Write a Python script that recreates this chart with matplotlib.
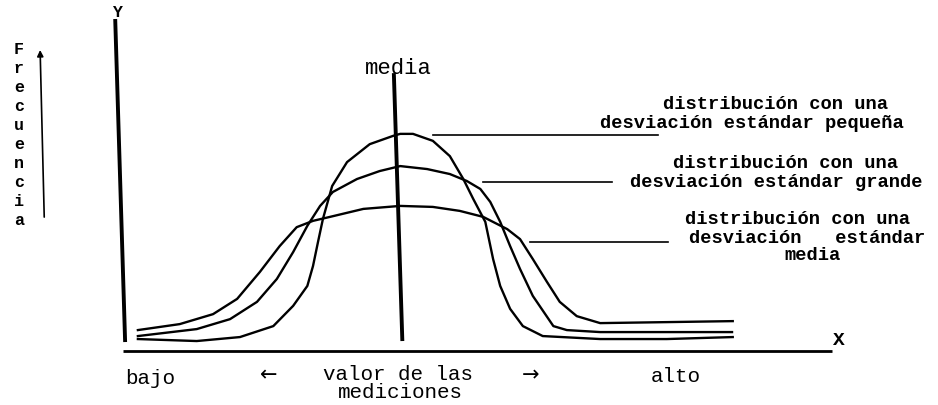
import matplotlib
matplotlib.use("Agg")
import matplotlib.pyplot as plt

# Measurement axis runs 0..100 (bajo -> alto), frequency axis 0..100
# curve with small standard deviation (tallest)
x_pequena = [2.1, 10.4, 16.5, 21.2, 24.0, 26.0, 26.8, 27.5, 28.2, 29.5, 31.6, 34.8, 38.1, 39.1,
             40.9, 43.7, 46.1, 48.0, 49.4, 51.1, 52.2, 53.2, 54.6, 56.4, 59.2, 67.3, 76.7, 86.0]
y_pequena = [3.6, 3.0, 4.2, 7.5, 13.6, 19.6, 25.6, 32.8, 39.8, 49.7, 56.9, 62.3, 64.8, 65.4,
             65.4, 63.3, 58.7, 51.8, 45.8, 38.9, 27.7, 19.6, 12.7, 7.5, 4.5, 3.6, 3.6, 4.2]

# curve labelled "grande"
x_grande = [2.1, 10.4, 15.1, 18.9, 21.7, 24.0, 26.0, 27.8, 29.6, 33.0, 36.2, 39.1, 42.9,
            46.1, 48.5, 50.4, 51.8, 53.2, 54.6, 56.0, 57.8, 60.7, 62.6, 67.3, 76.7, 85.9]
y_grande = [4.5, 6.6, 9.6, 14.8, 21.7, 29.8, 37.7, 43.7, 47.9, 51.8, 54.2, 55.7, 54.8,
            53.3, 51.2, 48.8, 44.9, 38.9, 31.6, 24.7, 16.6, 7.5, 6.3, 5.7, 5.7, 5.7]

# curve labelled "media" (flattest)
x_media = [2.1, 8.0, 12.7, 16.1, 19.3, 22.1, 24.5, 26.8, 29.2, 33.9, 39.1, 43.7, 47.5,
           50.8, 54.2, 56.0, 57.8, 59.8, 61.6, 64.0, 67.3, 76.7, 86.0]
y_media = [6.3, 8.1, 11.1, 15.7, 23.8, 31.6, 37.3, 39.2, 40.4, 42.8, 43.7, 43.4, 42.2,
           40.4, 36.7, 33.7, 27.7, 20.8, 14.8, 10.5, 8.4, 8.7, 9.0]

# leader lines from the curves to their captions: (x0, x1, y)
leaders = [(43.7, 75.5, 65.1), (50.8, 69.0, 50.9), (57.4, 76.9, 32.8)]
captions = [
    [("distribución con una", 92.1, 74.4), ("desviación estándar pequeña", 88.7, 68.7)],
    [("distribución con una", 93.4, 56.9), ("desviación estándar grande", 92.2, 51.2)],
    [("distribución con una", 95.1, 39.8), ("desviación   estándar", 96.5, 34.3),
     ("media", 97.2, 29.2)],
]

y_axis_x = [-1.1, 0.3]
y_axis_y = [100, 2.7]
mean_x = [38.2, 39.4]
mean_y = [83.7, 3.0]

mono = ["Liberation Mono", "DejaVu Sans Mono"]

fig = plt.figure(figsize=(9.38, 4.06), dpi=100)
ax = fig.add_axes([123 / 938, 54 / 406, 709 / 938, 332 / 406])
ax.set_xlim(0, 100)
ax.set_ylim(0, 100)
ax.axis("off")

kw = dict(color="black", solid_capstyle="butt", clip_on=False)
ax.plot(y_axis_x, y_axis_y, lw=2.8, **kw)
ax.plot([0, 100], [0, 0], lw=2.0, **kw)
ax.plot(mean_x, mean_y, lw=2.8, **kw)

for xs, ys in [(x_pequena, y_pequena), (x_grande, y_grande), (x_media, y_media)]:
    ax.plot(xs, ys, color="black", lw=1.7, solid_joinstyle="round", clip_on=False)

for x0, x1, y in leaders:
    ax.plot([x0, x1], [y, y], color="black", lw=1.2, clip_on=False)

for lines in captions:
    for txt, x, y in lines:
        ax.text(x, y, txt, family=mono, fontsize=13.5, fontweight="bold",
                ha="center", va="center", clip_on=False)

ax.text(-0.85, 102.4, "Y", family=mono, fontsize=12, fontweight="bold", ha="center", va="center")
ax.text(100.9, 3.6, "X", family=mono, fontsize=14, fontweight="bold", ha="center", va="center")
ax.text(38.8, 85.5, "media", family=mono, fontsize=16, ha="center", va="center")

# vertical "Frecuencia" with its arrow
for i, ch in enumerate("Frecuencia"):
    ax.text(-14.7, 91.0 - i * 5.7, ch, family=mono, fontsize=12, fontweight="bold",
            ha="center", va="center")
ax.annotate("", xy=(-11.7, 91.5), xytext=(-11.1, 39.5), annotation_clip=False,
            arrowprops=dict(arrowstyle="-|>", color="black", lw=1.2, mutation_scale=9))

# labels under the measurement axis
bottom = [("bajo", 3.8, -8.0), ("valor de las", 38.8, -6.9),
          ("mediciones", 39.1, -12.2), ("alto", 77.9, -7.4)]
for txt, x, y in bottom:
    ax.text(x, y, txt, family=mono, fontsize=15, ha="center", va="center")
for txt, x in [("←", 20.5), ("→", 57.5)]:
    ax.text(x, -7.0, txt, family="DejaVu Sans", fontsize=15, ha="center", va="center")

fig.savefig("out.png", dpi=100)
